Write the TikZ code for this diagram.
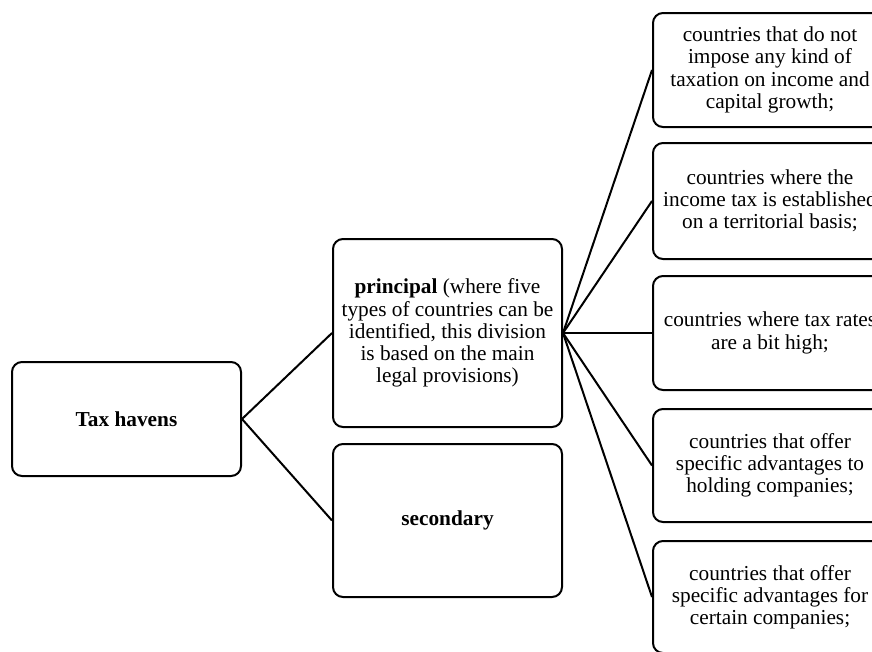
\documentclass[tikz,border=0pt]{standalone}
\usepackage{fontspec}
\setmainfont{Liberation Serif}
\usepackage{tikz}

\tikzset{
  havenbox/.style={draw, line width=2pt, rounded corners=10pt, align=center,
    inner sep=0pt, minimum width=229pt, font=\fontsize{21.3}{22.2}\selectfont},
  sidebox/.style={havenbox, minimum width=234pt},
  link/.style={line width=2pt}
}

\begin{document}
\begin{tikzpicture}[x=1pt,y=-1pt]
\useasboundingbox (0,0) rectangle (872,651);
\clip (0,0) rectangle (872,651);
\node[havenbox, minimum height=114pt] (havens) at (126.5,419) {\textbf{Tax havens}};
\node[havenbox, minimum height=188pt] (principal) at (447.5,333)
  {\textbf{principal} (where five\\types of countries can be\\identified, this division\\is based on the main\\legal provisions)};
\node[havenbox, minimum height=153pt] (secondary) at (447.5,520.5) {\textbf{secondary}};
\foreach \i/\y/\h/\txt in {
  1/70/114/{countries that do not\\impose any kind of\\taxation on income and\\capital growth;},
  2/201/116/{countries where the\\income tax is established\\on a territorial basis;},
  3/333/114/{countries where tax rates\\are a bit high;},
  4/465.5/113/{countries that offer\\specific advantages to\\holding companies;},
  5/597/112/{countries that offer\\specific advantages for\\certain companies;}}
  \node[sidebox, minimum height=\h pt] (type\i) at (770,\y) {\txt};
\draw[link] (havens.east) -- (principal.west);
\draw[link] (havens.east) -- (secondary.west);
\foreach \i in {1,...,5}
  \draw[link] (principal.east) -- (type\i.west);
\end{tikzpicture}
\end{document}
